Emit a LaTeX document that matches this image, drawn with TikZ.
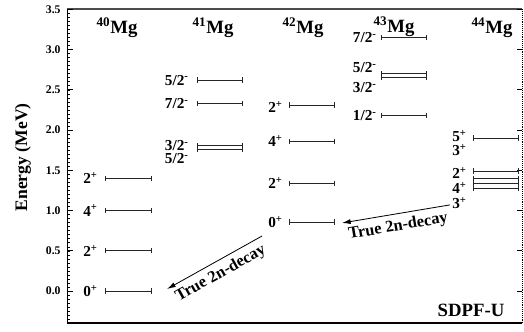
\documentclass[tikz,border=0pt]{standalone}
\usepackage{fontspec}
\setmainfont{Liberation Serif}
\usetikzlibrary{arrows.meta}
\tikzset{
  lvl/.style={line width=0.6pt, black!85, {Bar[width=4.5pt,line width=0.6pt]}-{Bar[width=4.5pt,line width=0.6pt]}},
  jlab/.style={anchor=east, inner sep=1pt, font=\fontsize{13}{14}\selectfont\bfseries},
  nuc/.style={font=\fontsize{16}{18}\selectfont\bfseries},
  decay/.style={{Latex[length=2.6mm,width=1.5mm]}-, line width=0.7pt},
}
\begin{document}
\begin{tikzpicture}[x=0.03cm, y=2.415cm, font=\bfseries]
\useasboundingbox (0,-0.497) rectangle (524,3.615);
% frame
\draw[line width=1pt] (67,-0.398) -- (522,-0.398);
\draw[line width=1.8pt, black!70] (67,3.5) -- (522,3.5);
\draw[line width=0.8pt] (67,-0.398) -- (67,3.5);
\draw[densely dotted, line width=0.6pt] (522,-0.398) -- (522,3.5);
\foreach \i in {-7,...,70}{\draw[line width=0.4pt] (67,\i*0.05) -- ++(3,0);}
\foreach \i/\t in {0/0.0,1/0.5,2/1.0,3/1.5,4/2.0,5/2.5,6/3.0,7/3.5}{
  \draw[line width=0.6pt] (67,\i*0.5) -- ++(6,0);
  \draw[line width=0.6pt] (522,\i*0.5) -- ++(-5,0);
  \node[anchor=east, inner sep=1pt, font=\fontsize{10}{11}\selectfont\bfseries] (t\i) at (62,\i*0.5) {\t};}
\node[rotate=90, font=\fontsize{15}{17}\selectfont\bfseries] (ylab) at (23,1.66) {Energy (MeV)};
% nuclei
\node[nuc] (m40) at (117,3.27) {\textsuperscript{40}Mg};
\node[nuc] (m41) at (213,3.27) {\textsuperscript{41}Mg};
\node[nuc] (m42) at (303,3.27) {\textsuperscript{42}Mg};
\node[nuc] (m43) at (394,3.28) {\textsuperscript{43}Mg};
\node[nuc] (m44) at (492,3.27) {\textsuperscript{44}Mg};
% levels
\foreach \e/\j/\ly [count=\k] in {0/{0\textsuperscript{+}}/0, 0.5/{2\textsuperscript{+}}/0.5, 1.0/{4\textsuperscript{+}}/1.0, 1.4/{2\textsuperscript{+}}/1.4}{
  \draw[lvl] (105,\e) -- (152,\e);
  \node[jlab] (a\k) at (99,\ly) {\j};}
\foreach \e/\j/\ly [count=\k] in {2.62/{5/2\textsuperscript{-}}/2.62, 2.33/{7/2\textsuperscript{-}}/2.33, 1.81/{3/2\textsuperscript{-}}/1.81, 1.76/{5/2\textsuperscript{-}}/1.65}{
  \draw[lvl] (197,\e) -- (243,\e);
  \node[jlab] (b\k) at (190,\ly) {\j};}
\foreach \e/\j/\ly [count=\k] in {2.31/{2\textsuperscript{+}}/2.29, 1.86/{4\textsuperscript{+}}/1.86, 1.34/{2\textsuperscript{+}}/1.34, 0.857/{0\textsuperscript{+}}/0.857}{
  \draw[lvl] (289,\e) -- (335,\e);
  \node[jlab] (c\k) at (284,\ly) {\j};}
\foreach \e/\j/\ly [count=\k] in {3.15/{7/2\textsuperscript{-}}/3.15, 2.70/{5/2\textsuperscript{-}}/2.78, 2.66/{3/2\textsuperscript{-}}/2.53, 2.18/{1/2\textsuperscript{-}}/2.18}{
  \draw[lvl] (381,\e) -- (427,\e);
  \node[jlab] (d\k) at (378,\ly) {\j};}
\foreach \e/\j/\ly [count=\k] in {1.90/{5\textsuperscript{+}}/1.92, 1.49/{3\textsuperscript{+}}/1.75, 1.40/{2\textsuperscript{+}}/1.47, 1.34/{4\textsuperscript{+}}/1.28, 1.28/{3\textsuperscript{+}}/1.09}{
  \draw[lvl] (473,\e) -- (519,\e);
  \node[jlab] (e\k) at (468,\ly) {\j};}
% decays
\coordinate (s42) at (262,0.683);
\coordinate (g41) at (167,0.025);
\coordinate (s44) at (450,1.07);
\coordinate (g43) at (342,0.845);
\draw[decay] (g41) -- node[sloped, below=1pt, font=\fontsize{14}{16}\selectfont\bfseries] (n42) {True 2n-decay} (s42);
\draw[decay] (g43) -- node[sloped, below=1pt, font=\fontsize{14}{16}\selectfont\bfseries] (n44) {True 2n-decay} (s44);
\node[font=\fontsize{16}{18}\selectfont\bfseries] (sdpf) at (471,-0.24) {SDPF-U};
\end{tikzpicture}
\end{document}
